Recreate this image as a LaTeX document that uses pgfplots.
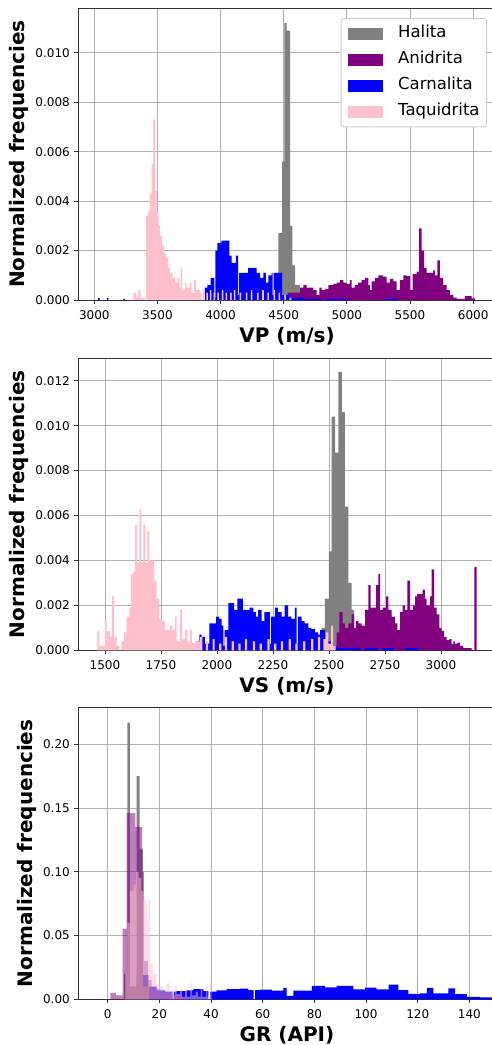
\documentclass[border=0pt]{standalone}
\usepackage{fontspec}
\setmainfont{DejaVu Sans}
\usepackage{pgfplots}
\pgfplotsset{compat=1.18}

\definecolor{halita}{RGB}{128,128,128}
\definecolor{anidrita}{RGB}{128,0,128}
\definecolor{carnalita}{RGB}{0,0,255}
\definecolor{taquidrita}{RGB}{255,192,203}
\definecolor{gridc}{RGB}{176,176,176}

\pgfplotsset{
  histpanel/.style={
    width=418pt, height=292pt, scale only axis,
    axis line style={black!80, line width=0.9pt},
    grid=major, major grid style={gridc, line width=0.9pt},
    tick align=outside, xtick pos=bottom, ytick pos=left,
    major tick length=3.5pt,
    every tick/.style={black!80, line width=0.9pt},
    ymin=0,
    scaled y ticks=false, scaled x ticks=false,
    /pgf/number format/assume math mode=true,
    ticklabel style={font=\fontsize{12}{14}\selectfont, inner sep=0pt},
    xticklabel style={yshift=-7pt, /pgf/number format/1000 sep={}},
    yticklabel style={xshift=-4.5pt},
    label style={font=\fontsize{20}{24}\selectfont\bfseries, inner sep=0pt},
    ylabel={Normalized frequencies},
    xlabel style={at={(axis description cs:0.5,-0.1452)}, anchor=base},
  },
  hist/.style={const plot, draw=none, forget plot},
}

\begin{document}
\begin{tikzpicture}
% ---------------- VP ----------------
\begin{axis}[histpanel, at={(0pt,0pt)}, anchor=north west,
  xmin=2871, xmax=6181, ymax=0.01181,
  xtick={3000,3500,4000,4500,5000,5500,6000},
  ytick={0,0.002,0.004,0.006,0.008,0.010},
  yticklabel style={/pgf/number format/.cd, fixed, fixed zerofill, precision=3},
  xlabel={VP (m/s)},
  ylabel style={at={(axis description cs:-0.1268,0.5)}, anchor=base},
  legend cell align=left,
  legend image code/.code={\fill[#1, sharp corners] (0pt,-6pt) rectangle (35pt,6pt);},
  legend style={at={(rel axis cs:0.9785,0.9658)}, anchor=north east,
    draw=black!20, line width=0.9pt, rounded corners=3pt, fill=white,
    font=\fontsize{16.5}{19}\selectfont, inner xsep=7pt, inner ysep=7pt,
    row sep=9.5pt, column sep=15pt,
    nodes={inner sep=0pt, text height=12.5pt, text depth=4pt}},
]
\addlegendimage{fill=halita, draw=none}
\addlegendentry{Halita}
\addlegendimage{fill=anidrita, draw=none}
\addlegendentry{Anidrita}
\addlegendimage{fill=carnalita, draw=none}
\addlegendentry{Carnalita}
\addlegendimage{fill=taquidrita, draw=none}
\addlegendentry{Taquidrita}

\addplot[hist, fill=halita] coordinates {
(4430,0.0008)(4457,0.0027)(4488,0.0056)(4506,0.0112)(4524,0.0109)(4550,0.0030)
(4568,0.0014)(4590,0.0006)(4630,0.0002)(4670,0)} \closedcycle;

\addplot[hist, fill=anidrita] coordinates {
(4530,0.0003)(4589,0.0003)(4629,0.0005)(4655,0.0006)(4681,0.0005)(4708,0.0005)
(4734,0.0004)(4761,0.0002)(4782,0.0005)(4800,0.0004)(4827,0.00045)(4853,0.0006)
(4893,0.00065)(4919,0.0007)(4945,0.0008)(4972,0.0007)(4998,0.00065)(5024,0.0008)
(5038,0.0005)(5064,0.0006)(5090,0.0007)(5117,0.0008)(5143,0.0009)(5170,0.0006)
(5183,0.0004)(5196,0.00075)(5222,0.0009)(5249,0.0010)(5288,0.00095)(5315,0.0007)
(5341,0.00085)(5368,0.00075)(5394,0.0004)(5420,0.0008)(5447,0.0010)(5473,0.00097)
(5500,0.0004)(5521,0.00105)(5552,0.00115)(5573,0.0029)(5592,0.0020)(5611,0.0013)
(5631,0.0011)(5658,0.0011)(5684,0.0012)(5697,0.0010)(5716,0.0016)(5737,0.0009)
(5763,0.0006)(5790,0.0004)(5816,0.0002)(5843,0.0001)(5869,0.00005)(5935,0.00016)
(5988,0.00007)(6015,0)} \closedcycle;

\addplot[hist, fill=carnalita] coordinates {
(3030,0.00008)(3042,0)(3100,0.00008)(3112,0)(3230,0.00005)(3245,0)
(3692,0.0004)(3710,0)(3816,0.0004)(3837,0)(3876,0.0005)(3895,0.0006)(3921,0.0009)
(3950,0.0001)(3958,0.0020)(3974,0.0023)(4006,0.0024)(4069,0.0018)
(4088,0.0015)(4122,0.0018)(4138,0.0002)(4146,0.0011)
(4188,0.0011)(4219,0.0013)(4254,0.0013)(4285,0.0011)(4313,0.0009)
(4338,0.0011)(4359,0.0007)(4378,0.0010)(4404,0.0011)(4412,0.0002)(4420,0.0011)
(4457,0.0011)(4476,0.0011)(4488,0.0002)(4560,0.0001)(4650,0.00005)
(4800,0)(4830,0.00005)(5000,0)(5300,0.00005)(5400,0)} \closedcycle;

\addplot[hist, fill=taquidrita] coordinates {
(3309,0.0003)(3330,0.00013)(3349,0.0004)(3367,0.0001)(3401,0)(3409,0.0034)
(3425,0.0036)(3441,0.0043)(3454,0.0055)(3467,0.0073)(3483,0.0044)(3494,0.0036)
(3510,0.0030)(3520,0.0026)(3536,0.0022)(3552,0.0019)(3568,0.0017)(3586,0.0013)
(3599,0.0011)(3620,0.0009)(3639,0.0007)(3657,0.0009)(3673,0.0005)(3684,0.0013)
(3694,0.0004)(3718,0.0007)(3731,0.0005)(3758,0.0007)(3771,0.0003)(3789,0.0008)
(3805,0.0004)(3837,0.0003)(3850,0)(3862,0.0004)(3874,0)(3888,0.0003)(3900,0)
(3915,0.0004)(3927,0)(3945,0.0003)(3957,0)(3975,0.0003)(3987,0)(4010,0.0004)
(4022,0)(4040,0.0003)(4052,0)(4075,0.0003)(4087,0)(4105,0.0004)(4117,0)
(4150,0.0003)(4162,0)(4200,0.0003)(4212,0)(4240,0.0004)(4252,0)(4290,0.0003)
(4302,0)(4330,0.0004)(4342,0)(4370,0.0003)(4382,0)(4420,0.0004)(4432,0)
(4460,0.0003)(4472,0)(4505,0.0002)(4517,0)(4545,0.0001)(4560,0)} \closedcycle;
\end{axis}

% ---------------- VS ----------------
\begin{axis}[histpanel, at={(0pt,-350.3pt)}, anchor=north west,
  xmin=1379.5, xmax=3245.6, ymax=0.0130,
  xtick={1500,1750,2000,2250,2500,2750,3000},
  ytick={0,0.002,0.004,0.006,0.008,0.010,0.012},
  yticklabel style={/pgf/number format/.cd, fixed, fixed zerofill, precision=3},
  xlabel={VS (m/s)},
  ylabel style={at={(axis description cs:-0.1268,0.5)}, anchor=base},
]
\addplot[hist, fill=halita] coordinates {
(2467,0.0010)(2482,0.0023)(2500,0.0044)(2512,0.0104)(2527,0.0088)(2542,0.0124)
(2557,0.0106)(2571,0.0064)(2586,0.0030)(2601,0.0018)(2612,0)} \closedcycle;

\addplot[hist, fill=anidrita] coordinates {
(2534,0.0008)(2546,0.0017)(2561,0.0012)(2571,0.0010)(2586,0.0012)(2601,0.0016)
(2612,0.0010)(2621,0.0013)(2631,0.0012)(2646,0.0011)(2661,0.0018)(2676,0.0029)
(2686,0.0019)(2695,0.0019)(2710,0.0029)(2720,0.0034)(2728,0.0018)(2740,0.0019)
(2755,0.0024)(2765,0.0018)(2780,0.0015)(2795,0.0012)(2805,0.0009)(2817,0.0017)
(2829,0.0020)(2839,0.0018)(2850,0.0031)(2862,0.0018)(2874,0.0020)(2884,0.0024)
(2894,0.0025)(2906,0.0025)(2918,0.0027)(2928,0.0023)(2936,0.0020)(2951,0.0024)
(2958,0.0036)(2969,0.0019)(2981,0.0016)(2993,0.0010)(3003,0.00086)(3013,0.0006)
(3025,0.00045)(3037,0.0005)(3048,0.00027)(3055,0.0004)(3062,0.0003)(3073,0.00034)
(3085,0.0002)(3100,0.0001)(3137,0)(3149,0.0037)(3159,0)} \closedcycle;

\addplot[hist, fill=carnalita] coordinates {
(1887,0.0003)(1897,0.0002)(1912,0.0004)(1921,0.0007)(1931,0.0006)(1946,0.0003)
(1966,0.0012)(1996,0.0015)(2010,0.0014)(2021,0.0011)(2028,0.0002)
(2034,0.0009)(2051,0.0021)(2076,0.0018)(2091,0.0023)
(2116,0.0018)(2132,0.0018)(2146,0.0019)(2162,0.0017)
(2174,0.0015)(2184,0.0018)(2199,0.0013)(2211,0.0017)(2229,0.0017)
(2236,0.0003)(2242,0.0015)(2259,0.0019)(2272,0.0017)(2289,0.0015)
(2302,0.0020)(2318,0.0015)(2332,0.0014)(2348,0.0019)
(2355,0.0003)(2361,0.0015)(2378,0.0013)(2391,0.0012)(2408,0.0010)
(2421,0.00094)(2438,0.0008)(2451,0.0007)(2460,0.0009)
(2482,0.0005)(2497,0.0004)(2519,0.0002)(2541,0.0001)(2640,0)(2660,0.0001)
(2720,0)(2740,0.0001)(2790,0)(2840,0.0001)(2900,0)} \closedcycle;

\addplot[hist, fill=taquidrita] coordinates {
(1466,0.00086)(1475,0.0002)(1500,0.0013)(1507,0.00086)(1522,0.0006)(1531,0.0024)
(1540,0.0006)(1552,0.0002)(1564,0)(1573,0.0004)(1585,0.0008)(1597,0.0015)
(1609,0.0019)(1616,0.0034)(1626,0.0035)(1635,0.0056)(1644,0.0039)(1653,0.0063)
(1662,0.0039)(1671,0.0056)(1680,0.0039)(1689,0.0053)(1698,0.0040)(1710,0.0040)
(1719,0.0031)(1731,0.0023)(1743,0.0014)(1753,0.0013)(1768,0.0009)(1790,0.0011)
(1802,0.0009)(1813,0.0015)(1820,0.0004)(1835,0.0018)(1844,0.0005)(1857,0.0009)
(1868,0.0004)(1879,0.0009)(1888,0.0003)(1902,0.0004)(1924,0.0006)(1935,0)
(1950,0.0004)(1960,0)(1980,0.0005)(1990,0)(2010,0.0003)(2020,0)(2035,0.0006)
(2045,0)(2065,0.0004)(2075,0)(2095,0.0003)(2105,0)(2125,0.0005)(2135,0)
(2160,0.0004)(2170,0)(2190,0.0003)(2200,0)(2225,0.0005)(2235,0)(2255,0.0003)
(2265,0)(2285,0.0004)(2295,0)(2320,0.0005)(2330,0)(2350,0.0003)(2360,0)
(2385,0.0004)(2395,0)(2420,0.0005)(2430,0)(2450,0.0006)(2460,0)(2475,0.0005)
(2487,0.0008)(2497,0.0003)(2510,0.0011)(2518,0.0002)(2530,0)} \closedcycle;
\end{axis}

% ---------------- GR ----------------
\begin{axis}[histpanel, at={(0pt,-699.3pt)}, anchor=north west,
  xmin=-11.5, xmax=150.3, ymax=0.229,
  xtick={0,20,40,60,80,100,120,140},
  ytick={0,0.05,0.10,0.15,0.20},
  yticklabel style={/pgf/number format/.cd, fixed, fixed zerofill, precision=2},
  xlabel={GR (API)},
  ylabel style={at={(axis description cs:-0.1077,0.5)}, anchor=base},
]
\addplot[hist, fill=carnalita] coordinates {
(7.3,0.010)(11.2,0.019)(15.7,0.010)(18.9,0.007)(22.2,0.006)
(25.0,0)(25.6,0.006)(26.7,0.0065)(30.6,0.007)(33.2,0.008)
(37.0,0.0065)(39.0,0)(39.6,0.006)(42.2,0.007)(46.0,0.008)
(51.2,0.0084)(54.4,0.0073)(56.5,0)(57.1,0.0073)(59.0,0.0076)
(63.5,0.0068)(68.0,0.009)(69.3,0.0026)
(71.9,0.0068)(79.0,0.0105)(84.1,0.0094)(88.6,0.0105)
(95.1,0.0078)(99.6,0.0091)(104.0,0.0078)(108.7,0.0115)(112.5,0.0073)(116.4,0.0042)
(120.9,0.0047)(123.5,0.009)(126.1,0.0047)(131.9,0.0086)(134.5,0.004)(139.0,0.002)
(144.2,0.0015)(151,0.0015)} \closedcycle;

\addplot[hist, fill=halita] coordinates {
(6.3,0.02)(7.6,0.217)(8.6,0.01)(11.2,0.175)(12.4,0.118)(13.6,0.01)(16,0)} \closedcycle;

\addplot[hist, fill=anidrita, fill opacity=0.5] coordinates {
(1.0,0.005)(3.2,0.003)(5.8,0.055)(7.3,0.146)(10.7,0.135)(13.3,0.10)(14.0,0.03)
(15.5,0.015)(17,0.008)(20,0.005)(25,0.003)(30,0)} \closedcycle;

\addplot[hist, fill=taquidrita, fill opacity=0.5] coordinates {
(6.8,0.02)(7.6,0.06)(8.6,0.085)(10,0.09)(11,0.10)(12,0.095)(13,0.085)(13.8,0.078)
(15.1,0.062)(15.7,0.079)(16.4,0.028)(17.7,0.02)(18.9,0.0125)(20.2,0.01)(21.5,0.0073)
(22.8,0.0125)(24.1,0.006)(25,0.003)(26,0.011)(26.7,0.004)(28,0.008)(28.7,0.002)
(30,0.009)(30.7,0.002)(32,0.013)(32.6,0.003)(34,0.006)(35,0.002)(36,0.008)
(36.6,0.002)(38,0.01)(38.6,0.002)(39.5,0.013)(40.2,0)} \closedcycle;
\end{axis}

\pgfresetboundingbox
\path[use as bounding box] (-78pt,8pt) rectangle (413pt,-1037pt);
\end{tikzpicture}
\end{document}
